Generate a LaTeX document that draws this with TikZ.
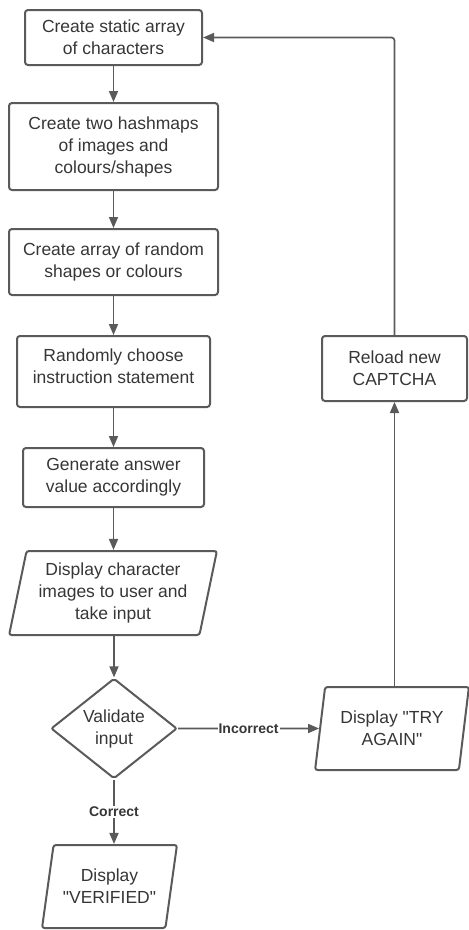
\documentclass[tikz,border=0pt]{standalone}
\usepackage{fontspec}
\setmainfont{Liberation Sans}[Ligatures=TeXOff]
\usetikzlibrary{shapes.geometric,arrows.meta}
\definecolor{stroke}{HTML}{5A5A5A}
\definecolor{txt}{HTML}{363636}
\tikzset{
  base/.style={draw=stroke, line width=2pt, text=txt, align=center, inner sep=0pt,
    font=\fontsize{17.5}{22}\selectfont},
  proc/.style={base, rectangle, rounded corners=3pt},
  io/.style={base, trapezium, trapezium stretches=true, rounded corners=2.5pt},
  decision/.style={base, diamond, rounded corners=2pt},
  arr/.style={draw=stroke, line width=1.7pt, -{Triangle[length=11pt,width=9pt]}},
  lbl/.style={fill=white, text=txt, inner sep=1pt, font=\fontsize{14}{16}\selectfont\bfseries}
}
\begin{document}
\begin{tikzpicture}[x=1pt,y=-1pt]
\useasboundingbox (0,0) rectangle (469,930);
\node[proc, minimum width=177pt, minimum height=55pt] (b1) at (113.5,37.5) {Create static array\\of characters};
\node[proc, minimum width=209pt, minimum height=87pt] (b2) at (113.5,146.5) {Create two hashmaps\\of images and\\colours/shapes};
\node[proc, minimum width=209pt, minimum height=66pt] (b3) at (113.5,262) {Create array of random\\shapes or colours};
\node[proc, minimum width=193pt, minimum height=71pt] (b4) at (113.5,371.5) {Randomly choose\\instruction statement\\[-11pt]};
\node[proc, minimum width=181pt, minimum height=59pt] (b5) at (113.5,477.5) {Generate answer\\value accordingly};
\node[io, trapezium left angle=76, trapezium right angle=104, minimum width=208pt, minimum height=84pt] (b6) at (113,593) {Display character\\images to user and\\take input};
\node[decision, minimum width=126pt, minimum height=97pt] (d) at (114,728.5) {Validate\\input};
\node[io, trapezium left angle=77.5, trapezium right angle=102.5, minimum width=154pt, minimum height=83pt] (try) at (392,728.5) {Display "TRY\\AGAIN"};
\node[proc, minimum width=145pt, minimum height=65pt] (rel) at (394.5,368.5) {Reload new\\CAPTCHA};
\node[io, trapezium left angle=74.5, trapezium right angle=105.5, minimum width=135pt, minimum height=83pt] (ver) at (109.5,886.5) {Display\\"VERIFIED"};

\draw[arr] (b1) -- (b2);
\draw[arr] (b2) -- (b3);
\draw[arr] (b3) -- (b4);
\draw[arr] (b4) -- (b5);
\draw[arr] (b5) -- (b6.north -| b5.south);
\draw[arr] (b6.south -| d.north) -- (d.north);
\draw[arr] (d.east) -- node[lbl]{Incorrect} (try.west);
\draw[arr] (d.south) -- node[lbl]{Correct} (d.south |- ver.north);
\draw[arr] (try.north -| rel.south) -- (rel.south);
\draw[arr, rounded corners=3pt] (rel.north) |- (b1.east);
\end{tikzpicture}
\end{document}
